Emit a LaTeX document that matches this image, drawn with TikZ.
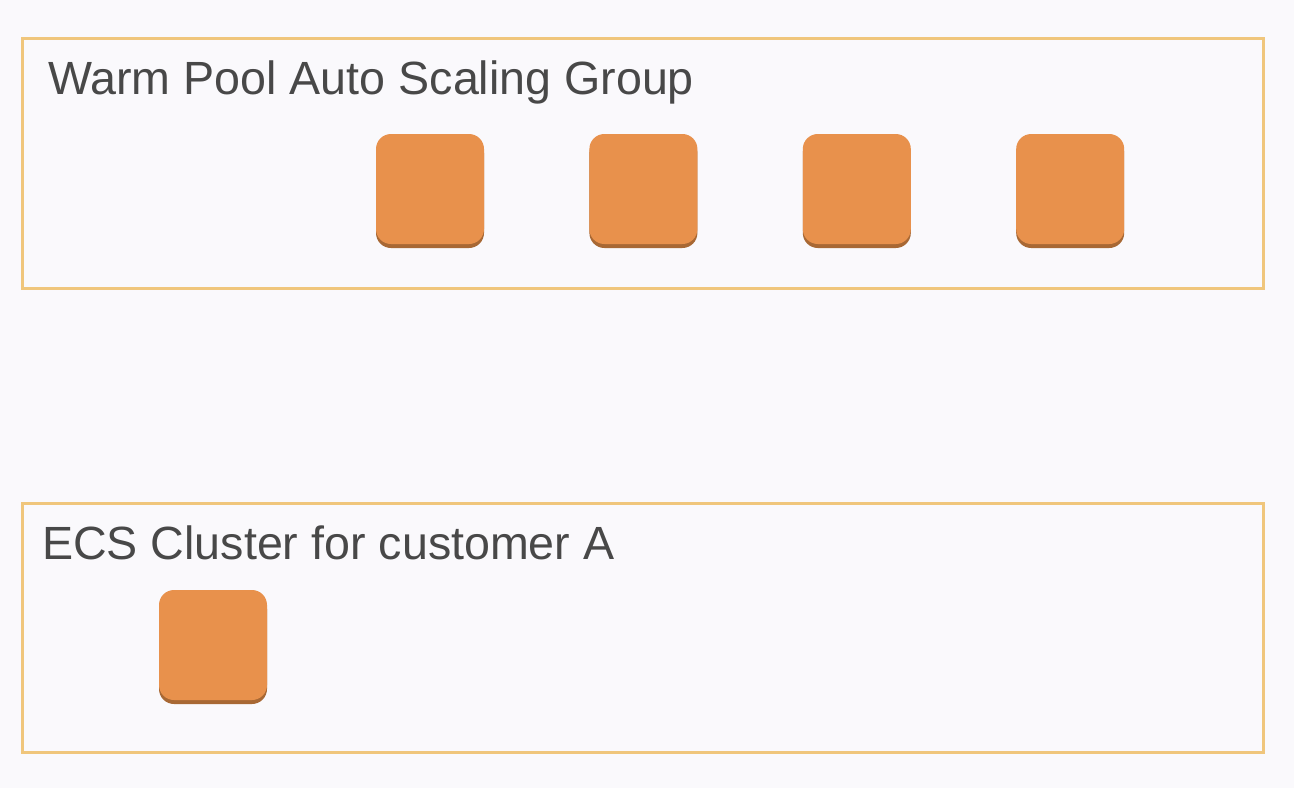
\documentclass[tikz,border=0pt]{standalone}
\usepackage{fontspec}
\setmainfont{Liberation Sans}
\usetikzlibrary{positioning,shadows}
\definecolor{PageColor}{RGB}{250,249,252}
\definecolor{GroupColor}{RGB}{240,198,124}
\definecolor{InstanceColor}{RGB}{232,145,76}
\definecolor{InstanceShadow}{RGB}{168,104,52}
\definecolor{LabelColor}{RGB}{72,72,72}

\begin{document}
\begin{tikzpicture}[x=1pt, y=-1pt,
    group/.style={draw=GroupColor, line width=3pt, anchor=north west,
        minimum width=1241pt, inner sep=0pt, outer sep=0pt},
    instance/.style={fill=InstanceColor, rounded corners=15pt,
        minimum width=108pt, minimum height=110pt, inner sep=0pt,
        drop shadow={fill=InstanceShadow, shadow xshift=0pt,
            shadow yshift=-4pt, opacity=1}},
    label/.style={anchor=base west, text=LabelColor, inner sep=0pt,
        font=\fontsize{46.6}{56}\selectfont}]

    \fill[PageColor] (0,0) rectangle (1294,788);

    % warm pool
    \node[group, minimum height=250pt] (WarmPool) at (22,38) {};
    \node[label] (WarmPoolLabel) at (48,94) {Warm Pool Auto Scaling Group};

    \node[instance] (Pool1) at (430,189) {};
    \foreach \prev/\this in {Pool1/Pool2, Pool2/Pool3, Pool3/Pool4}
        \node[instance, right=105pt of \prev] (\this) {};

    % customer cluster
    \node[group, minimum height=249pt] (ClusterA) at (22,503) {};
    \node[label] (ClusterALabel) at (42,559) {ECS Cluster for customer A};

    \node[instance] (ClusterA1) at (213,645) {};

\end{tikzpicture}
\end{document}
